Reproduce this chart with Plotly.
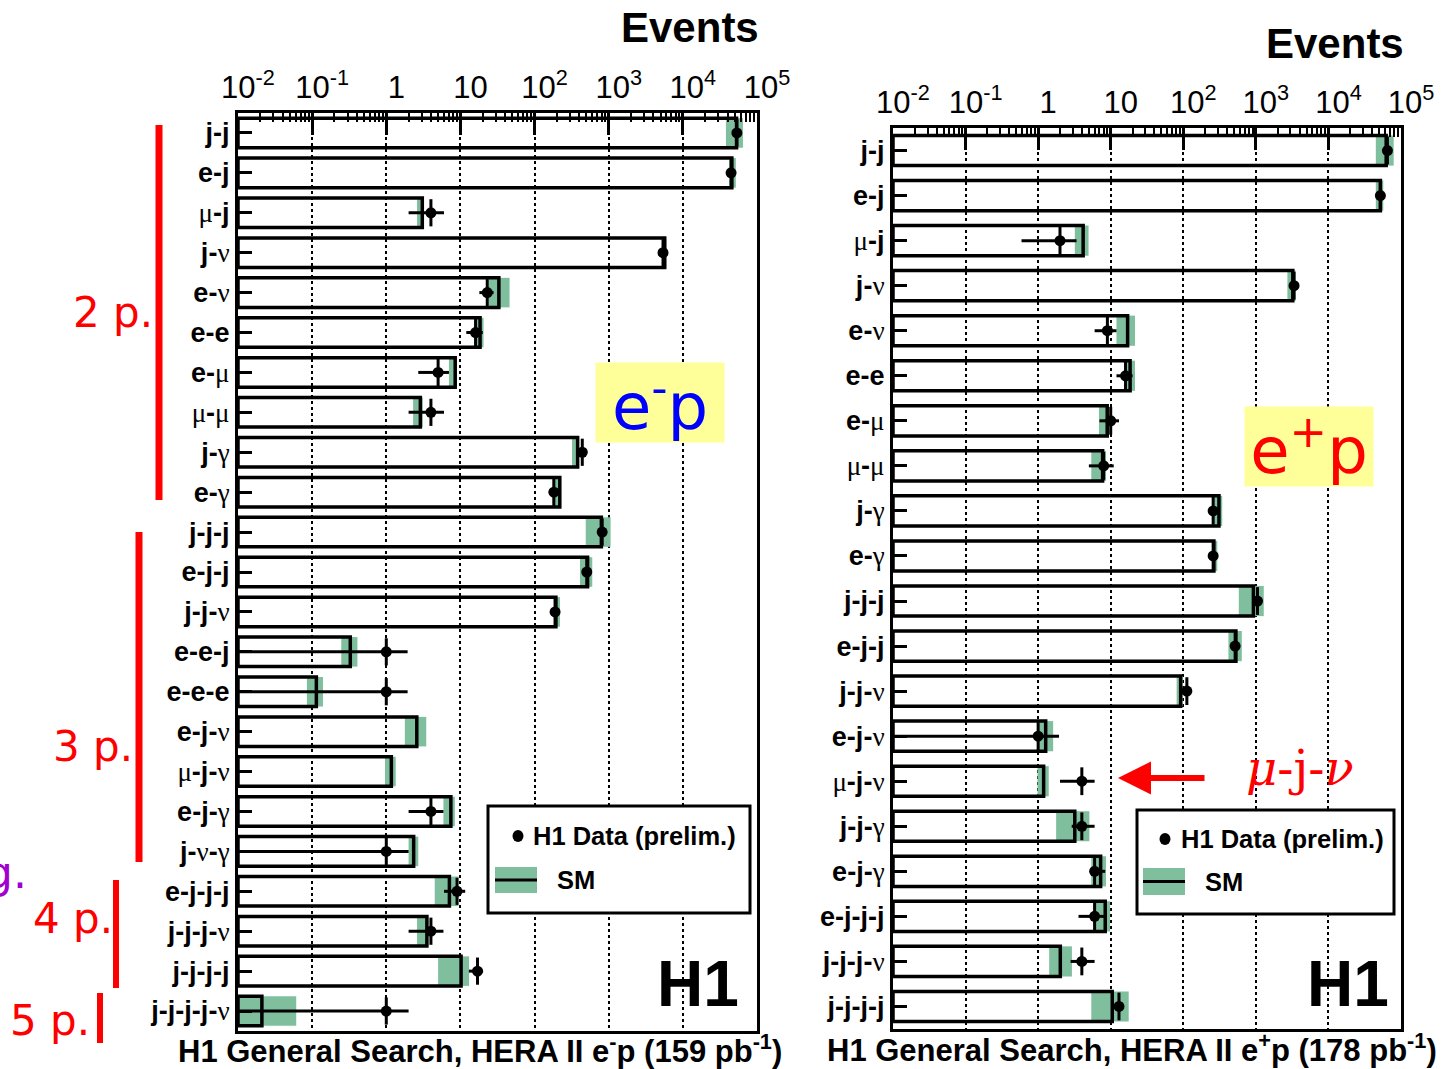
import plotly.graph_objects as go

W, H = 1453, 1069

# ---------------- data ----------------
left_labels = ["j-j", "e-j", "μ-j", "j-ν", "e-ν", "e-e", "e-μ", "μ-μ", "j-γ", "e-γ",
               "j-j-j", "e-j-j", "j-j-ν", "e-e-j", "e-e-e", "e-j-ν", "μ-j-ν", "e-j-γ",
               "j-ν-γ", "e-j-j-j", "j-j-j-ν", "j-j-j-j", "j-j-j-j-ν"]
left_sm = [53000, 45800, 3.06, 5690, 33, 18.4, 8.5, 2.88, 381, 219,
           796, 519, 194, 0.327, 0.114, 2.58, 1.17, 7.43,
           2.34, 7.1, 3.53, 10.2, 0.021]
left_sm_lo = [38100, 42100, 2.6, 5300, 24, 16.3, 7.0, 2.3, 320, 175,
              490, 410, 182, 0.247, 0.085, 1.78, 0.96, 5.9,
              2.0, 4.5, 2.6, 5.0, 0.0101]
left_sm_hi = [64600, 51800, 3.2, 6000, 46, 20.5, 9.0, 3.1, 395, 225,
              1060, 600, 220, 0.408, 0.14, 3.46, 1.34, 8.4,
              2.7, 9.4, 3.7, 13.1, 0.061]
left_data = [53500, 44700, 4, 5400, 23, 16, 5, 4, 440, 182,
             816, 506, 189, 1, 1, None, None, 4,
             1, 9, 4, 17, 1]
left_err_lo = [230, 210, 2, 73, 5, 4, 2.3, 2, 21, 13,
               29, 22, 14, 1, 1, None, None, 2,
               1, 3, 2, 4, 1]
left_err_hi = [230, 210, 2, 73, 5, 4, 2, 2, 21, 13,
               29, 22, 14, 0.94, 0.94, None, None, 1.9,
               1.0, 2.6, 1.9, 3.2, 1.0]

right_labels = ["j-j", "e-j", "μ-j", "j-ν", "e-ν", "e-e", "e-μ", "μ-μ", "j-γ", "e-γ",
                "j-j-j", "e-j-j", "j-j-ν", "e-j-ν", "μ-j-ν", "j-j-γ", "e-j-γ",
                "e-j-j-j", "j-j-j-ν", "j-j-j-j"]
right_sm = [62500, 52000, 4.17, 3230, 17.1, 18.5, 8.95, 7.74, 310, 264,
            925, 531, 92, 1.27, 1.19, 3.2, 7.26, 8.4, 2.02, 10.5]
right_sm_lo = [45000, 45000, 3.2, 2720, 12, 16.2, 6.9, 5.4, 264, 248,
               582, 419, 81, 0.98, 0.98, 1.77, 5.4, 5.8, 1.42, 5.4]
right_sm_hi = [79300, 57000, 4.95, 3540, 21.6, 21.6, 9.2, 8.6, 344, 294,
               1285, 640, 98, 1.61, 1.4, 5.08, 8.6, 9.8, 2.92, 17.7]
right_data = [65000, 52000, 2, 3360, 9, 16, 10, 8, 258, 258,
              1054, 518, 112, 1, 4, 4, 6, 6, 4, 13]
right_err_lo = [255, 228, 1.41, 58, 3, 4, 3, 3, 16, 16,
                32, 23, 11, 1, 2, 1.1, 0.8, 2.4, 1.2, 2.2]
right_err_hi = [255, 228, 1.38, 58, 3, 4, 3, 3, 16, 16,
                32, 23, 11, 0.94, 2, 2.0, 2.4, 2.4, 2.0, 2.2]

x_tickvals = [0.01, 0.1, 1, 10, 100, 1000, 1e4, 1e5]
x_ticktext = ["10<sup>-2</sup>", "10<sup>-1</sup>", "1", "10", "10<sup>2</sup>",
              "10<sup>3</sup>", "10<sup>4</sup>", "10<sup>5</sup>"]

# ---------------- styling ----------------
GREEN = "#7fbf9d"
SANS = "Liberation Sans Narrow, Liberation Sans, Arial, sans-serif"
XMIN = 0.01


def px(x):
    return x / W


def py(y):
    return 1 - y / H


def rich(lbl):
    out = ""
    for ch in lbl:
        if ch in "μνγ":
            out += '<span style="font-family:Liberation Serif,serif">' + ch + "</span>"
        else:
            out += "<b>" + ch + "</b>"
    return out


fig = go.Figure()


def add_panel(labels, sm, blo, bhi, data, elo, ehi, xa, ya, bw):
    n = len(labels)
    idx = list(range(n))
    fig.add_trace(go.Bar(orientation="h", y=idx, base=blo,
                         x=[h - l for l, h in zip(blo, bhi)], width=bw,
                         marker=dict(color=GREEN, line=dict(width=0)),
                         xaxis=xa, yaxis=ya, showlegend=False, hoverinfo="skip"))
    fig.add_trace(go.Bar(orientation="h", y=idx, base=[XMIN] * n,
                         x=[s - XMIN for s in sm], width=bw,
                         marker=dict(color="rgba(0,0,0,0)",
                                     line=dict(color="black", width=3.5)),
                         xaxis=xa, yaxis=ya, showlegend=False, hoverinfo="skip"))
    ys, xs, lo, hi = [], [], [], []
    for i, (d, a, b) in enumerate(zip(data, elo, ehi)):
        if d is None:
            continue
        ys.append(i)
        xs.append(d)
        lo.append(min(a, d - XMIN * 1.02))
        hi.append(b)
    fig.add_trace(go.Scatter(x=xs, y=ys, mode="markers",
                             marker=dict(color="black", size=11),
                             error_x=dict(type="data", symmetric=False, array=hi,
                                          arrayminus=lo, thickness=3, width=0,
                                          color="black"),
                             error_y=dict(type="constant", value=bw * 0.46,
                                          thickness=3, width=0, color="black"),
                             xaxis=xa, yaxis=ya, showlegend=False, hoverinfo="skip"))


add_panel(left_labels, left_sm, left_sm_lo, left_sm_hi, left_data, left_err_lo,
          left_err_hi, "x", "y", 0.74)
add_panel(right_labels, right_sm, right_sm_lo, right_sm_hi, right_data, right_err_lo,
          right_err_hi, "x2", "y2", 0.67)

minor_vals = [k * 10 ** e for e in range(-2, 5) for k in range(2, 10)]
xcommon = dict(type="log", range=[-2, 5], side="top", tickvals=x_tickvals,
               ticktext=x_ticktext, ticks="inside", ticklen=22, tickwidth=2.5,
               tickcolor="black", showline=True, linecolor="black", linewidth=3,
               mirror=True, showgrid=True, gridcolor="black", griddash="dot",
               gridwidth=1.5, zeroline=False, automargin=False,
               ticklabelshift=10,
               tickfont=dict(family=SANS, size=31, color="black"),
               minor=dict(tickvals=minor_vals, ticks="inside", ticklen=9,
                          tickwidth=2, tickcolor="black", showgrid=False))


def ycommon(labels):
    n = len(labels)
    return dict(range=[n - 0.5, -0.5], tickvals=list(range(n)),
                ticktext=[rich(l) for l in labels], ticks="inside", ticklen=14,
                tickwidth=3, tickcolor="black", showline=True, linewidth=3,
                linecolor="black", mirror=True, showgrid=False, zeroline=False,
                automargin=False,
                tickfont=dict(family=SANS, size=27, color="black"))


fig.update_layout(
    width=W, height=H, margin=dict(l=0, r=0, t=0, b=0, autoexpand=False),
    paper_bgcolor="white", plot_bgcolor="white", barmode="overlay",
    xaxis=dict(domain=[px(238), px(757)], anchor="y", **xcommon),
    yaxis=dict(domain=[py(1031), py(113)], anchor="x", **ycommon(left_labels)),
    xaxis2=dict(domain=[px(893), px(1401)], anchor="y2", **xcommon),
    yaxis2=dict(domain=[py(1029), py(128)], anchor="x2", **ycommon(right_labels)),
)

ann = []
shapes = []


def text(x, y, t, size, color="black", family=SANS, xanchor="center", **kw):
    ann.append(dict(x=px(x), y=py(y), xref="paper", yref="paper", text=t,
                    showarrow=False, xanchor=xanchor, yanchor="middle",
                    font=dict(family=family, size=size, color=color), **kw))


# titles
text(690, 28, "<b>Events</b>", 42)
text(1335, 44, "<b>Events</b>", 42)
text(480, 1049, "<b>H1 General Search, HERA II e<sup>-</sup>p (159 pb<sup>-1</sup>)</b>", 31)
text(1132, 1048, "<b>H1 General Search, HERA II e<sup>+</sup>p (178 pb<sup>-1</sup>)</b>", 31)
text(698, 984, "<b>H1</b>", 64)
text(1348, 984, "<b>H1</b>", 64)

# legends
for (bx0, by0, bx1, by1, dotx, doty, tx, gx0, gy0, gx1, gy1, smx) in [
        (488, 806, 750, 913, 518, 836, 531, 495, 867, 537, 893, 555),
        (1137, 810, 1394, 914, 1165, 839, 1179, 1143, 868, 1185, 895, 1203)]:
    shapes.append(dict(type="rect", xref="paper", yref="paper", x0=px(bx0), x1=px(bx1),
                       y0=py(by0), y1=py(by1), line=dict(color="black", width=3),
                       fillcolor="white", layer="above"))
    shapes.append(dict(type="circle", xref="paper", yref="paper", x0=px(dotx - 5.5),
                       x1=px(dotx + 5.5), y0=py(doty - 6), y1=py(doty + 6),
                       line=dict(width=0), fillcolor="black", layer="above"))
    shapes.append(dict(type="rect", xref="paper", yref="paper", x0=px(gx0), x1=px(gx1),
                       y0=py(gy0), y1=py(gy1), line=dict(width=0), fillcolor=GREEN,
                       layer="above"))
    shapes.append(dict(type="line", xref="paper", yref="paper", x0=px(gx0), x1=px(gx1),
                       y0=py((gy0 + gy1) / 2), y1=py((gy0 + gy1) / 2),
                       line=dict(color="black", width=3), layer="above"))
    text(tx, doty, "<b>H1 Data (prelim.)</b>", 25.5, xanchor="left")
    text(smx, (gy0 + gy1) / 2, "<b>SM</b>", 25.5, xanchor="left")

# slide annotations
COMIC = "DejaVu Sans, sans-serif"
ann.append(dict(x=px(660), y=py(402), xref="paper", yref="paper",
                text="e<sup>-</sup>p", showarrow=False, bgcolor="#ffff99",
                width=126, height=77, xanchor="center", yanchor="middle",
                font=dict(family=COMIC, size=64, color="#0000ff")))
ann.append(dict(x=px(1309), y=py(446), xref="paper", yref="paper",
                text="e<sup>+</sup>p", showarrow=False, bgcolor="#ffff99",
                width=126, height=77, xanchor="center", yanchor="middle",
                font=dict(family=COMIC, size=64, color="#ff0000")))

RED = "#ff0000"
text(113, 312, "2 p.", 42, RED, COMIC)
text(93, 746, "3 p.", 42, RED, COMIC)
text(73, 918, "4 p.", 42, RED, COMIC)
text(50, 1020, "5 p.", 42, RED, COMIC)
text(29, 872, "g.", 44, "#a000d0", COMIC, xanchor="right")
for (x, y0, y1, w) in [(159, 125, 500, 7), (139, 532, 862, 7), (116, 880, 988, 6),
                       (100, 993, 1043, 6)]:
    shapes.append(dict(type="line", xref="paper", yref="paper", x0=px(x), x1=px(x),
                       y0=py(y0), y1=py(y1), line=dict(color=RED, width=w)))

ann.append(dict(x=px(1118), y=py(778), xref="paper", yref="paper", text="",
                showarrow=True, ax=88, ay=0, axref="pixel", ayref="pixel",
                arrowcolor=RED, arrowwidth=6, arrowhead=2, arrowsize=1.1))
text(1300, 768, "<i>μ</i>-j-<i>ν</i>", 48, RED, "DejaVu Serif, serif")

fig.update_layout(annotations=ann, shapes=shapes)
fig.write_html("out.html")
